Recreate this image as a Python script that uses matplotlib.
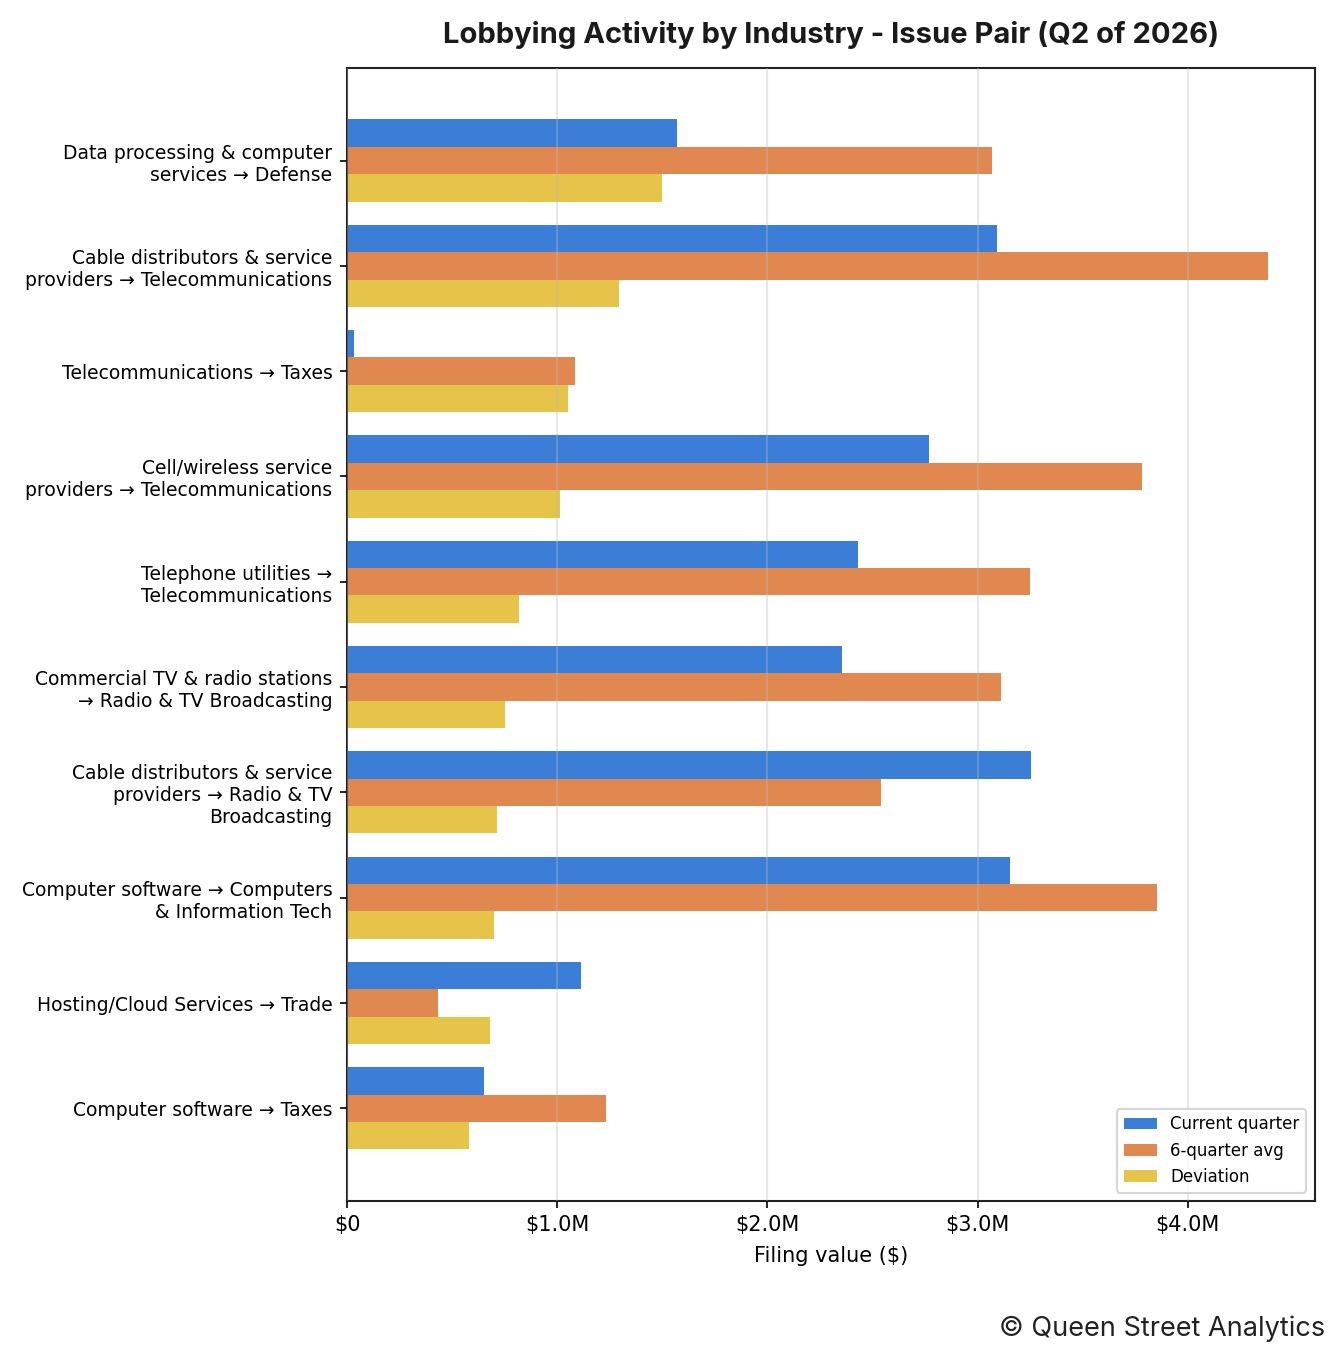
import numpy as np
import matplotlib.pyplot as plt
from matplotlib.ticker import FuncFormatter

plt.rcParams["font.family"] = ["DejaVu Sans"]

# categories, top to bottom
categories = [
    "Data processing & computer\nservices → Defense",
    "Cable distributors & service\nproviders → Telecommunications",
    "Telecommunications → Taxes",
    "Cell/wireless service\nproviders → Telecommunications",
    "Telephone utilities →\nTelecommunications",
    "Commercial TV & radio stations\n→ Radio & TV Broadcasting",
    "Cable distributors & service\nproviders → Radio & TV\nBroadcasting",
    "Computer software → Computers\n& Information Tech",
    "Hosting/Cloud Services → Trade",
    "Computer software → Taxes",
]

# values in $M
current_quarter = [1.569, 3.091, 0.033, 2.767, 2.430, 2.354, 3.252, 3.153, 1.113, 0.651]
six_quarter_avg = [3.067, 4.384, 1.084, 3.780, 3.248, 3.110, 2.539, 3.856, 0.433, 1.232]
deviation = [1.498, 1.293, 1.051, 1.013, 0.818, 0.751, 0.713, 0.699, 0.680, 0.580]

series = [
    ("Current quarter", current_quarter, "#3b7ed8"),
    ("6-quarter avg", six_quarter_avg, "#e0884f"),
    ("Deviation", deviation, "#e6c44a"),
]

fig, ax = plt.subplots(figsize=(1340 / 150, 1360 / 150), dpi=150)
fig.subplots_adjust(left=0.259, right=0.981, top=0.95, bottom=0.117)

y = np.arange(len(categories))
h = 0.26
for k, (name, vals, col) in enumerate(series):
    ax.barh(y + (k - 1) * h, np.array(vals) * 1e6, height=h, color=col, label=name, zorder=2)

ax.set_yticks(y)
ax.set_yticklabels(categories, fontsize=9)
ax.invert_yaxis()
ax.set_xlim(0, max(six_quarter_avg) * 1e6 * 1.05)

def money(v, pos):
    if v == 0:
        return "$0"
    return f"${v / 1e6:.1f}M"

ax.xaxis.set_major_formatter(FuncFormatter(money))
ax.tick_params(axis="x", labelsize=10)
ax.grid(axis="x", color="#bbbbbb", alpha=0.35, linewidth=1.0, zorder=3)
ax.set_axisbelow(False)
for s in ax.spines.values():
    s.set_linewidth(1.0)
    s.set_color("#222222")

ax.set_xlabel("Filing value ($)", fontsize=10, labelpad=5)
ax.set_title("Lobbying Activity by Industry - Issue Pair (Q2 of 2026)",
             fontsize=14, fontweight="bold", family="Inter", pad=12, color="#1a1a1a")

ax.legend(loc="lower right", fontsize=8, framealpha=0.8)

fig.text(0.989, 0.013, "© Queen Street Analytics", ha="right", va="bottom",
         fontsize=13, family="Inter", color="#222222")

fig.savefig("out.png", dpi=150)
